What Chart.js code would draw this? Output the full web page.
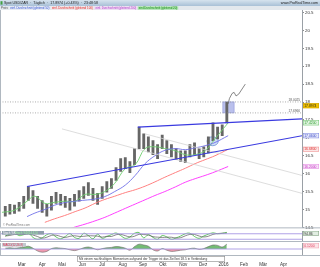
<!DOCTYPE html>
<html>
<head>
<meta charset="utf-8">
<script src="https://cdn.jsdelivr.net/npm/chart.js@4.4.1/dist/chart.umd.min.js"></script>
<style>
html, body { margin: 0; padding: 0; background: #fff; overflow: hidden; }
#rahmen { position: relative; width: 320px; height: 267px; }
canvas { position: absolute; left: 0; }
</style>
</head>
<body>
<div id="rahmen">
  <canvas id="haupt" width="320" height="231" style="top:0"></canvas>
  <canvas id="stoch" width="320" height="11" style="top:231px"></canvas>
  <canvas id="macd" width="320" height="25" style="top:242px"></canvas>
</div>
<script>
// Wochenkerzen (Mittwoch jeder Woche)
const wochen = ['2015-02-04','2015-02-11','2015-02-18','2015-02-25','2015-03-04','2015-03-11','2015-03-18','2015-03-25',
  '2015-04-01','2015-04-08','2015-04-15','2015-04-22','2015-04-29','2015-05-06','2015-05-13','2015-05-20','2015-05-27',
  '2015-06-03','2015-06-10','2015-06-17','2015-06-24','2015-07-01','2015-07-08','2015-07-15','2015-07-22','2015-07-29',
  '2015-08-05','2015-08-12','2015-08-19','2015-08-26','2015-09-02','2015-09-09','2015-09-16','2015-09-23','2015-09-30',
  '2015-10-07','2015-10-14','2015-10-21','2015-10-28','2015-11-04','2015-11-11','2015-11-18','2015-11-25',
  '2015-12-02','2015-12-09','2015-12-16','2015-12-23','2015-12-30','2016-01-06'];
const hochs = [15.09,15.14,15.12,15.20,15.37,15.64,15.53,15.37,15.25,15.14,
  15.37,15.48,15.42,15.37,15.31,15.42,15.53,15.64,15.75,15.59,
  15.45,15.64,15.78,15.86,16.17,16.42,16.45,16.34,16.70,17.30,
  17.11,17.03,16.92,16.81,17.08,16.92,16.81,16.70,16.64,16.64,
  16.81,16.86,16.70,16.75,17.03,17.42,17.30,17.36,18.00];
const tiefs = [14.81,14.87,14.89,14.95,15.03,15.25,15.17,15.03,14.92,14.81,
  14.98,15.17,15.12,15.06,14.98,15.09,15.23,15.31,15.39,15.25,
  15.14,15.31,15.48,15.59,15.81,16.06,16.14,16.03,16.25,16.70,
  16.70,16.61,16.53,16.42,16.70,16.56,16.47,16.39,16.34,16.31,
  16.47,16.53,16.42,16.47,16.58,16.92,16.97,17.06,17.42];
const schlusskurs = 17.8974;

// Kursverlauf nach der letzten Kerze
const nachDaten = ['2016-01-08','2016-01-10','2016-01-14','2016-01-17','2016-01-20','2016-01-24','2016-02-03'];
const nachWerte = [17.95, 18.10, 18.24, 18.27, 18.17, 18.22, 18.50];

// gleitende Durchschnitte
const maDaten = ['2015-01-30','2015-02-18','2015-03-09','2015-03-21','2015-04-05','2015-04-20','2015-05-05','2015-05-21',
  '2015-06-05','2015-06-20','2015-07-05','2015-07-20','2015-08-05','2015-08-20','2015-09-04','2015-09-19',
  '2015-10-04','2015-10-20','2015-11-04','2015-11-19','2015-12-04','2015-12-19','2016-01-08'];
const ma20 = [14.92,14.98,15.23,15.37,15.17,15.20,15.23,15.23,15.42,15.42,15.50,15.73,16.14,16.25,16.70,16.75,
  16.70,16.64,16.53,16.53,16.64,16.97,17.42];
const ma50 = [null,null,14.80,14.90,15.00,15.12,15.19,15.23,15.26,15.29,15.36,15.50,15.68,15.95,16.28,16.50,
  16.65,16.70,16.67,16.72,16.78,16.87,17.06];
const ma100 = [null,null,null,null,14.64,14.74,14.83,14.94,15.04,15.17,15.28,15.37,15.47,15.55,15.65,15.77,
  15.90,16.03,16.15,16.28,16.39,16.50,16.68];
const ma200 = [null,null,null,null,null,null,14.42,14.51,14.59,14.68,14.78,14.90,15.03,15.15,15.27,15.39,
  15.50,15.63,15.76,15.86,15.95,16.05,16.20];

// Trendlinien
const linieOben = { daten: ['2015-08-24','2016-04-29'], werte: [17.30, 17.53] };
const linieUnten = { daten: ['2015-03-09','2016-04-29'], werte: [15.64, 17.06] };
const grauA = { daten: ['2015-05-01','2016-04-29'], werte: [17.25, 15.45] };
const grauB = { daten: ['2015-09-04','2016-04-29'], werte: [17.11, 15.95] };
const niveaus = [18.0025, 17.6966];
const markDaten = ['2015-12-31','2016-01-17'];
const markPreise = [17.6966, 18.0025];
const kreisDaten = ['2015-12-07','2015-12-24'];
const kreisPreise = [16.78, 17.03];

// Indikatoren
const stochK = [55,75,85,60,70,88,40,20,35,70,80,45,25,50,82,40,30,85,60,25,
  75,30,50,70,88,60,30,45,85,92,35,70,40,20,60,45,20,35,55,80,
  85,50,30,55,75,90,80,85,94.86];
const stochD = [55,62,72,73,72,78,66,49,32,42,62,65,50,40,52,58,51,52,58,57,
  53,43,52,50,69,73,59,45,53,74,71,66,48,43,40,42,42,33,37,57,
  73,72,55,45,53,73,82,85,87];
const stochStufen = [20, 80];
const macdHisto = [0.02,0.03,0.02,0.03,0.05,0.07,0.02,-0.05,-0.08,-0.06,
  0.01,0.03,0.02,0.01,-0.02,-0.04,-0.01,0.03,0.05,0.02,
  -0.02,0.01,0.03,0.04,0.06,0.05,0.02,-0.03,0.06,0.12,
  0.10,0.07,-0.02,-0.05,0.01,-0.03,-0.06,-0.05,-0.03,-0.02,
  0.01,0.02,-0.01,0.01,0.06,0.10,0.09,0.05,0.12];

// Achsen
const monatsAnfang = ['2015-03-01','2015-04-01','2015-05-01','2015-06-01','2015-07-01','2015-08-01','2015-09-01',
  '2015-10-01','2015-11-01','2015-12-01','2016-01-01','2016-02-01','2016-03-01','2016-04-01'];
const monatsLabels = ['Mar','Apr','Mai','Jun','Jul','Aug','Sep','Okt','Nov','Dez','2016','Feb','Mär','Apr'];

const titel = 'Spot USD/ZAR  ·  Täglich  ·  17.8974 (+0.43%)  ·  23:48:58';
const legendeTexte = ['einf. Durchschnitt (gleitend 50)','einf. Durchschnitt (gleitend 100)',
  'einf. Durchschnitt (gleitend 200)','einf.Durchschnitt (gleitend 20)'];
const hinweis = 'Mit einem nachhaltigen Momentum aufgrund der Trigger ist das Ziel bei 18.5 in Verbindung';

// Tage seit 1. März 2015
function tag(s) {
    const [j, m, t] = s.split('-').map(Number);
    return (Date.UTC(j, m - 1, t) - Date.UTC(2015, 2, 1)) / 864e5;
}
const xMin = tag('2015-01-27');
const xMax = tag('2016-04-29');
const punkte = (daten, werte) => daten.map((d, i) => ({ x: tag(d), y: werte[i] }));
const waagerecht = v => [{ x: xMin, y: v }, { x: xMax, y: v }];

const schrift = 'Arial, "Liberation Sans", sans-serif';

function xAchse(sichtbar) {
    return {
        type: 'linear', min: xMin, max: xMax, offset: false, display: sichtbar,
        grid: { display: false, offset: false, drawTicks: false },
        border: { display: false },
        afterBuildTicks: s => { s.ticks = monatsAnfang.map(d => ({ value: tag(d) })); },
        ticks: {
            autoSkip: false, maxRotation: 0, padding: 7, color: '#333',
            font: { size: 4.6, family: schrift },
            callback: (v, i) => monatsLabels[i]
        },
        afterFit: s => { if (sichtbar) s.height = 12; }
    };
}

function yRechts(min, max, mitTicks) {
    return {
        position: 'right', min: min, max: max,
        grid: { drawOnChartArea: false, drawTicks: mitTicks, tickLength: 2, color: '#888' },
        border: { color: '#9aa0a6' },
        ticks: {
            display: mitTicks, stepSize: 0.5, includeBounds: false, padding: 1, color: '#333',
            font: { size: 4.4, family: schrift },
            callback: v => String(v)
        },
        afterFit: s => { s.width = 18; }
    };
}

function wertBox(ctx, yPix, text, bg, fg, rand) {
    ctx.fillStyle = bg;
    ctx.fillRect(303, yPix - 2.5, 16, 5);
    ctx.strokeStyle = rand;
    ctx.lineWidth = 0.5;
    ctx.strokeRect(303.25, yPix - 2.25, 15.5, 4.5);
    ctx.fillStyle = fg;
    ctx.font = '3.4px ' + schrift;
    ctx.textAlign = 'left';
    ctx.textBaseline = 'middle';
    ctx.fillText(text, 304.2, yPix + 0.2);
}

const hauptDeko = {
    id: 'hauptDeko',
    beforeDatasetsDraw(chart) {
        const { ctx, scales: { x, y } } = chart;
        ctx.save();
        // Markierung über dem Ausbruch
        const bx1 = x.getPixelForValue(tag(markDaten[0])), bx2 = x.getPixelForValue(tag(markDaten[1]));
        const by1 = y.getPixelForValue(markPreise[1]), by2 = y.getPixelForValue(markPreise[0]);
        ctx.fillStyle = 'rgba(130,140,220,0.55)';
        ctx.fillRect(bx1, by1, bx2 - bx1, by2 - by1);
        ctx.strokeStyle = '#8a92d8';
        ctx.lineWidth = 0.6;
        ctx.strokeRect(bx1, by1, bx2 - bx1, by2 - by1);
        // Ellipse
        const ex1 = x.getPixelForValue(tag(kreisDaten[0])), ex2 = x.getPixelForValue(tag(kreisDaten[1]));
        const ey1 = y.getPixelForValue(kreisPreise[1]), ey2 = y.getPixelForValue(kreisPreise[0]);
        ctx.beginPath();
        ctx.ellipse((ex1 + ex2) / 2, (ey1 + ey2) / 2, (ex2 - ex1) / 2, (ey2 - ey1) / 2, 0, 0, Math.PI * 2);
        ctx.fillStyle = 'rgba(175,200,240,0.6)';
        ctx.fill();
        ctx.strokeStyle = '#6f8fd8';
        ctx.lineWidth = 0.8;
        ctx.stroke();
        ctx.restore();
    },
    afterDraw(chart) {
        const { ctx, chartArea: ca, scales: { y } } = chart;
        ctx.save();
        // Kopfzeile
        const g = ctx.createLinearGradient(0, 0, 0, 6);
        g.addColorStop(0, '#d6e3ee');
        g.addColorStop(1, '#a8c0d6');
        ctx.fillStyle = g;
        ctx.fillRect(0, 0, 320, 6);
        ctx.fillStyle = '#e3e8ed';
        ctx.fillRect(0, 6, 320, 4);
        ctx.fillStyle = '#40a040';
        ctx.fillRect(0.5, 1.2, 2, 3.4);
        ctx.font = '3.6px ' + schrift;
        ctx.fillStyle = '#1a1a1a';
        ctx.textBaseline = 'middle';
        ctx.fillText(titel, 4, 3.2);
        ctx.textAlign = 'right';
        ctx.fillText('www.ProRealTime.com', 318, 3.2);
        // Legende
        ctx.textAlign = 'left';
        ctx.font = '2.9px ' + schrift;
        let lx = 1;
        ctx.fillStyle = '#555';
        ctx.fillText('Preis:', lx, 8.1);
        lx += ctx.measureText('Preis: ').width;
        const stile = [['#e8edf7', '#3050d0'], ['#f3e8ea', '#e02828'], ['#f0dcf4', '#b040c8'], ['#a8e4a8', '#1f8a1f']];
        legendeTexte.forEach((t, i) => {
            const w = ctx.measureText(t).width + 2;
            ctx.fillStyle = stile[i][0];
            ctx.fillRect(lx, 6.4, w, 3.3);
            ctx.fillStyle = stile[i][1];
            ctx.fillText(t, lx + 1, 8.1);
            lx += w + 0.6;
        });
        // Rahmen
        ctx.strokeStyle = '#b0b8c0';
        ctx.lineWidth = 1;
        ctx.beginPath();
        ctx.moveTo(0.5, ca.top); ctx.lineTo(0.5, ca.bottom);
        ctx.moveTo(0, ca.bottom + 0.5); ctx.lineTo(320, ca.bottom + 0.5);
        ctx.stroke();
        // Wasserzeichen
        ctx.fillStyle = '#777';
        ctx.font = '3px ' + schrift;
        ctx.fillText('© ProRealTime.com', 3, ca.bottom - 2.5);
        // Beschriftung der Niveaus
        ctx.fillStyle = '#555';
        ctx.font = '3.2px ' + schrift;
        ctx.textAlign = 'right';
        niveaus.forEach(v => ctx.fillText(v.toFixed(4), 300, y.getPixelForValue(v) - 2));
        // Wertboxen an der Achse
        wertBox(ctx, y.getPixelForValue(schlusskurs), schlusskurs.toFixed(4), '#f2c200', '#222', '#c89c00');
        wertBox(ctx, y.getPixelForValue(ma20[ma20.length - 1]), ma20[ma20.length - 1].toFixed(4), '#e4f6e4', '#2a9a2a', '#6cc46c');
        wertBox(ctx, y.getPixelForValue(ma50[ma50.length - 1]), ma50[ma50.length - 1].toFixed(4), '#e6e8fa', '#3848c8', '#7a84e0');
        wertBox(ctx, y.getPixelForValue(ma100[ma100.length - 1]), ma100[ma100.length - 1].toFixed(4), '#fbe6e6', '#e03030', '#f08a8a');
        wertBox(ctx, y.getPixelForValue(ma200[ma200.length - 1]), ma200[ma200.length - 1].toFixed(4), '#f8e2f8', '#c030c0', '#e488e4');
        ctx.restore();
    }
};

const linie = (daten, farbe, breite, extra) => Object.assign({
    type: 'line', data: daten, borderColor: farbe, borderWidth: breite,
    pointRadius: 0, tension: 0, fill: false, order: 1
}, extra || {});

new Chart(document.getElementById('haupt'), {
    type: 'line',
    data: {
        datasets: [
            linie(punkte(grauA.daten, grauA.werte), '#d4d4d4', 0.8),
            linie(punkte(grauB.daten, grauB.werte), '#d4d4d4', 0.8),
            linie(waagerecht(niveaus[0]), '#999', 0.8, { borderDash: [1, 1.5] }),
            linie(waagerecht(niveaus[1]), '#999', 0.8, { borderDash: [1, 1.5] }),
            linie(punkte(maDaten, ma200), '#ff40ff', 1, { tension: 0.4 }),
            linie(punkte(maDaten, ma100), '#ff8080', 1, { tension: 0.4 }),
            linie(punkte(maDaten, ma50), '#7070e8', 0.9, { tension: 0.4 }),
            linie(punkte(maDaten, ma20), '#70d070', 0.9, { tension: 0.4 }),
            {
                type: 'bar',
                data: wochen.map((w, i) => ({ x: tag(w), y: [tiefs[i], hochs[i]] })),
                backgroundColor: '#666', borderWidth: 0, barThickness: 2.2, order: 2
            },
            linie(punkte(nachDaten, nachWerte), '#555', 0.7),
            linie(punkte(linieOben.daten, linieOben.werte), '#3a3ae0', 1.1, { order: 0 }),
            linie(punkte(linieUnten.daten, linieUnten.werte), '#3a3ae0', 1.1, { order: 0 })
        ]
    },
    options: {
        responsive: false, animation: false, devicePixelRatio: 1,
        layout: { padding: { top: 10, bottom: 2, left: 0, right: 0 } },
        plugins: { legend: { display: false }, tooltip: { enabled: false } },
        scales: { x: xAchse(false), y: yRechts(14.5, 20.57, true) }
    },
    plugins: [hauptDeko]
});

const stochDeko = {
    id: 'stochDeko',
    afterDraw(chart) {
        const { ctx, chartArea: ca, scales: { y } } = chart;
        ctx.save();
        ctx.strokeStyle = '#b0b8c0';
        ctx.lineWidth = 1;
        ctx.beginPath();
        ctx.moveTo(0.5, ca.top); ctx.lineTo(0.5, ca.bottom);
        ctx.moveTo(0, ca.bottom - 0.5); ctx.lineTo(320, ca.bottom - 0.5);
        ctx.stroke();
        ctx.fillStyle = '#8e9eac';
        ctx.fillRect(2, 0, 42, 3.6);
        ctx.font = '2.9px ' + schrift;
        ctx.textBaseline = 'middle';
        ctx.fillStyle = '#fff';
        ctx.fillText('Stoch %K', 3, 1.9);
        ctx.fillStyle = '#9dff9d';
        ctx.fillText('Stoch %D(14,3,5)', 15, 1.9);
        const k = stochK[stochK.length - 1];
        wertBox(ctx, y.getPixelForValue(k) + 1, k.toFixed(2), '#e2eee2', '#333', '#7a9a7a');
        ctx.restore();
    }
};

new Chart(document.getElementById('stoch'), {
    type: 'line',
    data: {
        datasets: [
            linie(waagerecht(stochStufen[0]), '#a898e4', 0.9),
            linie(waagerecht(stochStufen[1]), '#a898e4', 0.9),
            linie(punkte(wochen, stochD), '#555', 0.7, { tension: 0.4 }),
            linie(punkte(wochen, stochK), '#3cb83c', 0.8, { tension: 0.4 })
        ]
    },
    options: {
        responsive: false, animation: false, devicePixelRatio: 1,
        layout: { padding: 0 },
        plugins: { legend: { display: false }, tooltip: { enabled: false } },
        scales: { x: xAchse(false), y: yRechts(-10, 110, false) }
    },
    plugins: [stochDeko]
});

const macdDeko = {
    id: 'macdDeko',
    afterDraw(chart) {
        const { ctx, chartArea: ca, scales: { y } } = chart;
        ctx.save();
        ctx.strokeStyle = '#b0b8c0';
        ctx.lineWidth = 1;
        ctx.beginPath();
        ctx.moveTo(0.5, ca.top); ctx.lineTo(0.5, ca.bottom);
        ctx.moveTo(0, ca.bottom + 0.5); ctx.lineTo(320, ca.bottom + 0.5);
        ctx.stroke();
        ctx.fillStyle = '#c4cad0';
        ctx.fillRect(2, 1, 24, 3.6);
        ctx.font = '2.9px ' + schrift;
        ctx.textBaseline = 'middle';
        ctx.fillStyle = '#e03a5a';
        ctx.fillText('MACD(12,26,9)', 3, 2.9);
        const m = macdHisto[macdHisto.length - 1];
        wertBox(ctx, y.getPixelForValue(m) + 1.5, m.toFixed(4), '#fbe4e8', '#e03a5a', '#f0a0b0');
        // Hinweisfeld
        ctx.fillStyle = '#fff';
        ctx.fillRect(77, 14, 148, 5.6);
        ctx.strokeStyle = '#888';
        ctx.lineWidth = 0.6;
        ctx.strokeRect(77.3, 14.3, 147.4, 5);
        ctx.fillStyle = '#333';
        ctx.font = '3.2px ' + schrift;
        ctx.fillText(hinweis, 79, 16.9);
        ctx.restore();
    }
};

new Chart(document.getElementById('macd'), {
    type: 'line',
    data: {
        datasets: [
            linie(waagerecht(0), '#a898e4', 0.9),
            linie(punkte(wochen, macdHisto), '#666', 0.6, {
                tension: 0.35,
                fill: { target: 'origin', above: 'rgba(70,165,70,0.75)', below: 'rgba(235,120,150,0.75)' }
            })
        ]
    },
    options: {
        responsive: false, animation: false, devicePixelRatio: 1,
        layout: { padding: { top: 1, bottom: 0, left: 0, right: 0 } },
        plugins: { legend: { display: false }, tooltip: { enabled: false } },
        scales: { x: xAchse(true), y: yRechts(-0.15, 0.15, false) }
    },
    plugins: [macdDeko]
});
</script>
</body>
</html>
